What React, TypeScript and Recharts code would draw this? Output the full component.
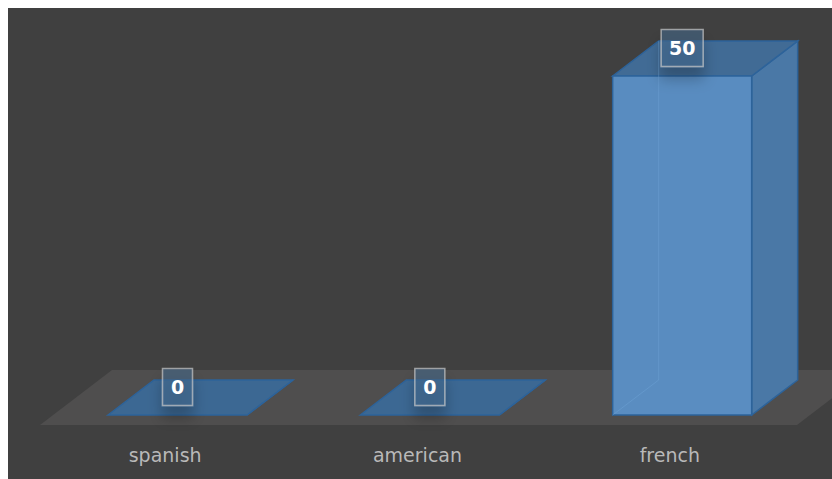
import React from 'react';
import { BarChart, Bar, XAxis, YAxis, LabelList, ReferenceArea } from 'recharts';

const categories = ['spanish', 'american', 'french'];
const counts = [0, 0, 50];

const data = categories.map((name, i) => ({ name, value: counts[i] }));

const DX = 46;
const DY = -35;
const EDGE = '#2d639a';

const pts = (list: number[][]) => list.map(([a, b]) => `${a},${b}`).join(' ');

const Box3D = (props: any) => {
  const { x, y, width: w, height: h } = props;
  const bx = x + DX;
  const by = y + DY;
  return (
    <g>
      <polygon
        points={pts([[x + w, y], [bx + w, by], [bx + w, by + h], [x + w, y + h]])}
        fill="#4a78a6"
        stroke={EDGE}
        strokeWidth={1.5}
      />
      <polygon
        points={pts([[x, y], [bx, by], [bx + w, by], [x + w, y]])}
        fill={h > 0 ? '#416b95' : '#3c6893'}
        stroke={EDGE}
        strokeWidth={1.5}
      />
      {h > 0 && (
        <>
          <rect x={x} y={y} width={w} height={h} fill="#5b90c6" fillOpacity={0.96} stroke={EDGE} strokeWidth={1.5} />
          {/* back edges showing faintly through the front */}
          <polyline
            points={pts([[x, y + h], [bx, by + h], [bx, by]])}
            fill="none"
            stroke="#6ea3d6"
            strokeOpacity={0.45}
          />
        </>
      )}
    </g>
  );
};

const Floor = (props: any) => {
  const { x, y, width: w, height: h } = props;
  const zero = y + h;
  return (
    <polygon
      points={pts([[x - 11, zero + 10], [x + w - 11, zero + 10], [x + w + 61, zero - 45], [x + 61, zero - 45]])}
      fill="#4f4e4e"
    />
  );
};

const ValueTag = (props: any) => {
  const { x, y, width: w, value } = props;
  const text = String(value);
  const bw = 18 + text.length * 12;
  const bh = 37;
  const cx = x + w / 2;
  const cy = y - 28;
  return (
    <g>
      <rect
        x={cx - bw / 2}
        y={cy - bh / 2}
        width={bw}
        height={bh}
        fill="#46698e"
        fillOpacity={0.55}
        stroke="#c8c8c8"
        strokeOpacity={0.7}
        strokeWidth={1.5}
        filter="url(#tagShadow)"
      />
      <text
        x={cx}
        y={cy}
        dy="0.36em"
        textAnchor="middle"
        fill="#ffffff"
        fontFamily="DejaVu Sans"
        fontWeight="bold"
        fontSize={19}
      >
        {text}
      </text>
    </g>
  );
};

const CategoryTick = (props: any) => {
  const { x, y, payload } = props;
  return (
    <text x={x - 12} y={y} dy={45} textAnchor="middle" fill="#b9b9b9" fontFamily="DejaVu Sans" fontSize={19}>
      {payload.value}
    </text>
  );
};

export default function App() {
  return (
    <div
      style={{
        position: 'fixed',
        left: 8,
        top: 8,
        width: 830,
        height: 480,
        background: '#404040',
        overflow: 'hidden',
      }}
    >
      <BarChart width={824} height={471} data={data} margin={{ top: 68, right: 24, bottom: 24, left: 43 }}>
        <defs>
          <filter id="tagShadow" x="-50%" y="-50%" width="200%" height="250%">
            <feDropShadow dx={0} dy={12} stdDeviation={7} floodColor="#000" floodOpacity={0.4} />
          </filter>
        </defs>
        <XAxis
          dataKey="name"
          axisLine={false}
          tickLine={false}
          tickSize={0}
          height={40}
          interval={0}
          tick={<CategoryTick />}
        />
        <YAxis hide domain={[0, 50]} />
        <ReferenceArea y1={0} y2={50} ifOverflow="visible" shape={<Floor />} />
        <Bar dataKey="value" barSize={139} shape={<Box3D />} isAnimationActive={false}>
          <LabelList dataKey="value" content={<ValueTag />} />
        </Bar>
      </BarChart>
    </div>
  );
}
